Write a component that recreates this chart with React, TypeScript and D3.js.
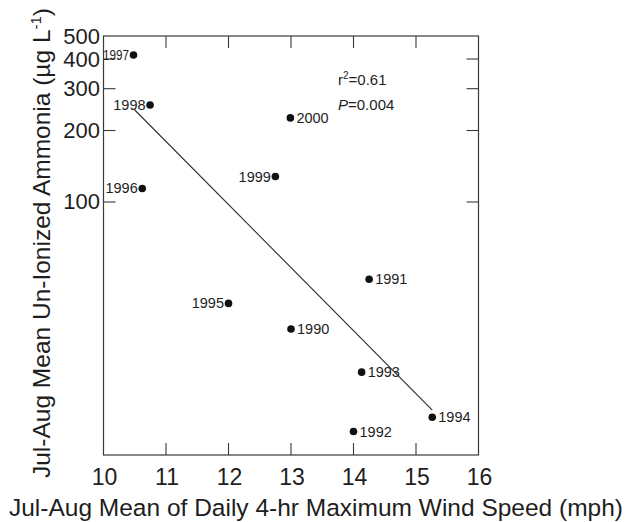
import React from "react";
import * as d3 from "d3";

const years = [1990, 1991, 1992, 1993, 1994, 1995, 1996, 1997, 1998, 1999, 2000];
const windSpeed = [13.0, 14.25, 14.0, 14.13, 15.26, 12.0, 10.62, 10.48, 10.745, 12.75, 12.99];
const ammonia = [29.2, 47.3, 10.8, 19.2, 12.4, 37.4, 114, 416, 256, 128, 226];
const leftLabelYears = [1995, 1996, 1997, 1998, 1999];

const fitX = [10.5, 15.26];
const fitY = [244, 13.3];

const xTicks = [10, 11, 12, 13, 14, 15, 16];
const yTicks = [100, 200, 300, 400, 500];

const xTitle = "Jul-Aug Mean of Daily 4-hr Maximum Wind Speed (mph)";
const yTitle = "Jul-Aug Mean Un-Ionized Ammonia (\u00b5g L";
const r2Text = "0.61";
const pText = "0.004";

const W = 626;
const H = 522;
const FONT = "'Liberation Sans', Arial, Helvetica, sans-serif";

export default function App() {
  const x = d3.scaleLinear().domain([10, 16]).range([103.5, 478.5]);
  const y = d3.scaleLog().domain([8.6, 500]).range([455, 36]);
  const x0 = x(10), x1 = x(16), y0 = y(8.6), y1 = y(500);
  const tl = 12;
  const axisColor = "#3a3a3a";
  const textColor = "#1e1e1e";
  const line = d3.line<[number, number]>().x((d) => x(d[0])).y((d) => y(d[1]));
  const fitPts: [number, number][] = fitX.map((v, i) => [v, fitY[i]]);

  return (
    <svg width={W} height={H} style={{ position: "absolute", left: 0, top: 0, background: "#fff" }} fontFamily={FONT}>
      <rect x={x0} y={y1} width={x1 - x0} height={y0 - y1} fill="none" stroke={axisColor} strokeWidth={1.2} />
      {xTicks.slice(1, -1).map((t) => (
        <g key={"xt" + t}>
          <line x1={x(t)} x2={x(t)} y1={y0} y2={y0 - tl} stroke={axisColor} strokeWidth={1.1} />
          <line x1={x(t)} x2={x(t)} y1={y1} y2={y1 + tl} stroke={axisColor} strokeWidth={1.1} />
        </g>
      ))}
      {xTicks.map((t) => (
        <text key={"xl" + t} x={x(t) + 1} y={485} textAnchor="middle" fontSize={23} fill={textColor}>
          {t}
        </text>
      ))}
      {yTicks.slice(0, -1).map((t) => (
        <g key={"yt" + t}>
          <line x1={x0} x2={x0 + tl} y1={y(t)} y2={y(t)} stroke={axisColor} strokeWidth={1.1} />
          <line x1={x1} x2={x1 - tl} y1={y(t)} y2={y(t)} stroke={axisColor} strokeWidth={1.1} />
        </g>
      ))}
      {yTicks.map((t) => (
        <text key={"yl" + t} x={100} y={y(t) + 7.5} textAnchor="end" fontSize={22} fill={textColor}>
          {t}
        </text>
      ))}
      <path d={line(fitPts) || ""} fill="none" stroke="#2a2a2a" strokeWidth={1.1} />
      {years.map((yr, i) => {
        const cx = x(windSpeed[i]);
        const cy = y(ammonia[i]);
        const left = leftLabelYears.includes(yr);
        return (
          <g key={yr}>
            <circle cx={cx} cy={cy} r={3.8} fill="#111" />
            <text
              x={left ? cx - 4.5 : cx + 6}
              y={cy + 5}
              textAnchor={left ? "end" : "start"}
              fontSize={14.5}
              fill={textColor}
              {...(yr === 1997 ? { textLength: 26, lengthAdjust: "spacingAndGlyphs" } : {})}
            >
              {yr}
            </text>
          </g>
        );
      })}
      <text x={338} y={85} fontSize={15} fill={textColor}>
        r<tspan dy={-6} fontSize={10}>2</tspan>
        <tspan dy={6}>={r2Text}</tspan>
      </text>
      <text x={338} y={110} fontSize={15} fill={textColor}>
        <tspan fontStyle="italic">P</tspan>={pText}
      </text>
      <text x={316} y={516} textAnchor="middle" fontSize={24.5} fill={textColor}>
        {xTitle}
      </text>
      <text transform="translate(50,243) rotate(-90)" textAnchor="middle" fontSize={24.5} fill={textColor}>
        {yTitle}
        <tspan dy={-9} fontSize={15}>-1</tspan>
        <tspan dy={9}>)</tspan>
      </text>
    </svg>
  );
}
